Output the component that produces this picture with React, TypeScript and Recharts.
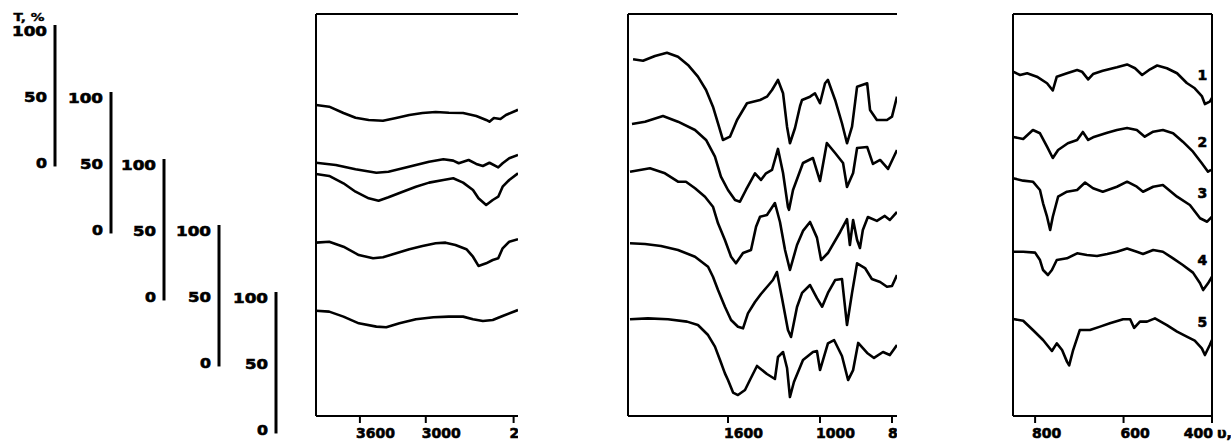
import React from 'react';
import { LineChart, Line, XAxis, YAxis, ReferenceDot, ReferenceLine } from 'recharts';

const FONT = '"DejaVu Sans", "Liberation Sans", sans-serif';

// ---------------- data (wavenumber cm-1, transmittance %) ----------------
type Pt = [number, number];

// Panel 1: 4000 – 2160 cm-1
const P1_C1: Pt[] = [[4000,44.1],[3880,42.8],[3750,38],[3640,34.4],[3520,32.7],[3390,32.1],[3270,34.2],[3150,36.5],[3030,38],[2910,38.8],[2790,38.2],[2660,38],[2540,35.7],[2450,32.7],[2420,31.4],[2380,34.2],[2320,33.4],[2270,36.5],[2180,39.7],[2160,40.5]];
const P1_C2: Pt[] = [[4000,50.8],[3820,49.1],[3640,45.8],[3450,43.2],[3340,44],[3210,46.6],[3090,49.1],[2970,51.6],[2840,53.4],[2750,52.4],[2700,50.4],[2610,52.9],[2540,49.9],[2480,48.3],[2420,50.8],[2340,47.3],[2300,50.4],[2240,54.2],[2160,56.7]];
const P1_C3: Pt[] = [[4000,92.9],[3880,91.4],[3750,85.8],[3640,79.4],[3520,74.4],[3430,72.6],[3340,75.2],[3210,79.4],[3090,83.2],[2970,86.3],[2840,88.3],[2750,89.6],[2660,86.3],[2570,80.7],[2520,74.4],[2450,69.3],[2390,73.1],[2340,75.6],[2300,83.2],[2240,88.3],[2160,93.4]];
const P1_C4: Pt[] = [[4000,91.3],[3880,92],[3750,88.2],[3610,81.9],[3480,79.4],[3390,80.2],[3270,83.2],[3150,86.3],[3030,88.8],[2910,90.8],[2820,91.3],[2730,89.5],[2630,86.3],[2570,80.6],[2520,73.6],[2450,75.6],[2390,78.1],[2340,79.4],[2300,87],[2240,92],[2160,93.9]];
const P1_C5: Pt[] = [[4000,90.2],[3880,89.5],[3750,85.7],[3610,80.6],[3450,78.1],[3360,77.6],[3240,80.6],[3090,83.7],[2930,85.2],[2790,85.7],[2660,85.7],[2570,83.7],[2480,82.4],[2390,83.1],[2300,86.2],[2160,90.7]];

// Panel 2: 2250 – 786 cm-1
const P2_C1: Pt[] = [[2219,78.8],[2154,77.7],[2076,81.3],[1998,83.8],[1926,80.8],[1861,74.5],[1796,65.6],[1743,55.5],[1698,42.8],[1665,30.2],[1633,17.5],[1587,20],[1541,32.7],[1476,45.4],[1391,47.9],[1346,50.4],[1313,55.5],[1274,63.1],[1241,53],[1215,27.6],[1196,15],[1163,26.6],[1130,43.3],[1117,47.9],[1065,50.4],[1033,53],[1000,45.4],[986,60.6],[978,63.1],[958,47.9],[939,30.2],[925,15],[911,27.6],[897,58],[869,60.6],[861,40.3],[842,32.7],[814,32.7],[800,35.2],[786,50.4]];
const P2_C2: Pt[] = [[2226,80.3],[2141,82],[2024,86.3],[1926,82],[1815,75.7],[1743,68.1],[1685,55.4],[1646,40.2],[1600,30.1],[1554,22.5],[1522,21.2],[1483,30.1],[1424,42.8],[1385,37.7],[1352,42.8],[1313,45.3],[1274,61.3],[1241,43],[1209,17.2],[1202,15],[1176,30.1],[1111,50.6],[1046,54.4],[1000,36.9],[981,65.8],[958,58.2],[936,50.6],[925,32.4],[908,43],[897,62],[869,62.8],[853,49.9],[833,52.9],[811,46.1],[786,60.5]];
const P2_C3: Pt[] = [[2239,94.6],[2109,97.2],[2011,93.4],[1926,87],[1874,87],[1815,82],[1750,75.6],[1698,68],[1665,55.4],[1620,42.7],[1580,30],[1548,25],[1502,32.8],[1450,35.1],[1417,52.8],[1391,60.4],[1346,61.7],[1294,70.8],[1261,56.4],[1228,35.1],[1196,19.9],[1150,38.9],[1111,49.6],[1065,56.4],[1020,44.5],[997,27.5],[978,32.8],[944,48.8],[925,58.6],[917,38.9],[908,57.9],[897,42.7],[889,36.6],[881,50.3],[867,60.2],[842,57.2],[820,61],[806,57.9],[786,64]];
const P2_C4: Pt[] = [[2239,90.8],[2141,90.3],[2037,88.8],[1926,85.7],[1815,80.6],[1730,73],[1698,65.4],[1665,55.3],[1620,42.6],[1580,32.5],[1535,27.4],[1502,26.2],[1470,37.6],[1424,46.2],[1385,52.3],[1346,57.6],[1307,62.9],[1281,69],[1248,49.2],[1209,24.9],[1189,19.6],[1150,42.4],[1117,53.1],[1065,59.1],[1020,49.2],[994,42.6],[978,53.1],[958,62.9],[939,63.7],[925,28.7],[911,53.1],[897,75.6],[875,72],[856,63.7],[833,61.4],[814,57.8],[800,58.4],[786,66.7]];
const P2_C5: Pt[] = [[2239,83.7],[2122,84.4],[1991,83.7],[1867,81.9],[1796,79.3],[1730,71.7],[1685,62.9],[1652,52.7],[1620,42.6],[1600,37.5],[1567,28],[1535,26.1],[1489,29.9],[1457,37.5],[1411,48.2],[1346,42.1],[1294,38.3],[1274,55],[1241,58.8],[1215,46.7],[1196,24.6],[1170,36],[1111,52.7],[1046,58.8],[1020,59.6],[1000,45.1],[978,65.4],[961,67.9],[939,55.8],[922,37.5],[908,45.1],[894,65.7],[869,58.1],[850,54.3],[825,58.8],[806,56.5],[786,64.1]];

// Panel 3: 850 – 400 cm-1
const P3_C1: Pt[] = [[850,69.4],[834,66.9],[818,68.2],[796,65.6],[773,60.6],[760,55.1],[751,65.6],[728,68.2],[705,70.7],[694,69.4],[680,63.5],[669,67.6],[647,70.1],[615,72.7],[592,74.9],[574,72],[558,66.9],[540,71.2],[524,74.1],[502,72],[479,68.2],[457,60.8],[439,56.8],[423,50.9],[416,44.8],[405,46.6],[400,49.4]];
const P3_C2: Pt[] = [[850,70.4],[827,68.9],[805,75.7],[789,73.2],[773,63],[760,54.4],[748,60.5],[726,65.6],[705,68.1],[692,74.2],[680,68.1],[669,70.1],[637,73.6],[615,75.7],[592,77.2],[570,75.7],[552,70.6],[533,74.4],[511,75.7],[488,73.2],[466,66.8],[443,59.2],[423,50.4],[409,44],[402,45.3]];
const P3_C3: Pt[] = [[850,89.6],[827,87.8],[805,87],[789,80.7],[782,70.6],[773,60.4],[766,50.3],[760,60.4],[748,75.6],[728,79.4],[705,80.7],[687,86.4],[669,82],[647,79.4],[615,83.2],[592,87],[570,83.2],[556,79.4],[533,83.2],[511,84.5],[479,75.6],[450,69.3],[427,59.2],[411,56.6],[400,60.4]];
const P3_C4: Pt[] = [[850,84.4],[827,84.4],[800,83.7],[789,78.1],[782,70.5],[771,66.7],[762,70.5],[751,78.1],[728,79.4],[705,83.2],[683,81.9],[660,81.2],[637,82.7],[615,84.4],[592,86.9],[570,84.4],[556,82.7],[533,85.7],[511,84.4],[488,79.4],[466,74.3],[443,68.5],[427,60.4],[420,55.3],[409,60.4],[400,65.4]];
const P3_C5: Pt[] = [[850,83.9],[827,82.6],[805,75.5],[782,67.9],[762,59.6],[751,65.4],[739,60.3],[728,51.5],[723,48.6],[714,60.3],[699,75.5],[676,75.5],[653,78.1],[631,80.6],[601,83.7],[585,83.7],[576,77.1],[563,81.9],[547,81.9],[529,84.4],[502,79.3],[479,74.3],[457,70.5],[439,67.4],[423,61.6],[416,56.5],[405,64.1],[400,68]];

const CURVE_NAMES = ['1', '2', '3', '4', '5'];
const NAME_WN = 422;
const NAME_T = [66.9, 66.6, 78.4, 78.1, 81.6];

const T_TICKS = [0, 50, 100];
const T_AXIS_DOMAIN = [-3, 104.5];
const P1_TICKS = [3600, 3000, 2200];
const P2_TICKS = [1600, 1000, 800];
const P3_TICKS = [800, 600, 400];
const P1_DOMAIN = [2160, 4000];
const P2_DOMAIN = [786, 2252];
const P3_DOMAIN = [400, 850];
// panel 2 axis has a scale change: wavenumber stops and their fraction across the axis
const P2_STOPS = [2252, 1600, 1000, 800, 786];
const P2_FRACS = [0, 0.3717, 0.7138, 0.9814, 1];
const X_UNIT = 'υ, см⁻¹';
const Y_TITLE = 'T, %';

// ---------------- layout ----------------
const PPU = 1.316; // px per % transmittance
const zeroRow = (k: number) => 163 + 66.6 * k;
const AXIS_X = [55, 111, 164, 219, 276];
const PLOT_TOP = 14;
const PLOT_BOTTOM = 416;
const TEXT_STROKE = 0.6;

function brokenScale(stops: number[], fracs: number[]): any {
  let dom: number[] = [stops[stops.length - 1], stops[0]];
  let rng: number[] = [0, 1];
  const frac = (v: number) => {
    const n = stops.length;
    let i = 0;
    while (i < n - 2 && v < stops[i + 1]) i++;
    const t = (v - stops[i]) / (stops[i + 1] - stops[i]);
    return fracs[i] + t * (fracs[i + 1] - fracs[i]);
  };
  const s: any = (v: any) => rng[0] + frac(Number(v)) * (rng[1] - rng[0]);
  s.domain = (d?: number[]) => {
    if (d === undefined) return dom.slice();
    dom = d.slice();
    return s;
  };
  s.range = (r?: number[]) => {
    if (r === undefined) return rng.slice();
    rng = r.slice();
    return s;
  };
  s.copy = () => brokenScale(stops, fracs).domain(dom).range(rng);
  s.ticks = () => stops.slice(1, -1);
  s.tickFormat = () => (v: any) => String(v);
  s.clamp = () => s;
  s.nice = () => s;
  s.invert = (px: number) => {
    const f = (px - rng[0]) / (rng[1] - rng[0]);
    for (let i = 0; i < fracs.length - 1; i++) {
      if (f <= fracs[i + 1] || i === fracs.length - 2) {
        const t = (f - fracs[i]) / (fracs[i + 1] - fracs[i]);
        return stops[i] + t * (stops[i + 1] - stops[i]);
      }
    }
    return stops[0];
  };
  return s;
}

const tickText = (x: number, y: number, value: any, anchor: string) => (
  <text
    x={x}
    y={y}
    dy="0.71em"
    textAnchor={anchor}
    fontFamily={FONT}
    fontWeight="bold"
    fontSize={14}
    fill="#000"
    stroke="#000"
    strokeWidth={TEXT_STROKE}
  >
    {value}
  </text>
);

const startTick = (dx: number) => (p: any) => tickText(p.x + dx, p.y, p.payload.value, 'start');

const panel3Tick = (p: any) => {
  const v = p.payload.value;
  if (v === P3_TICKS[P3_TICKS.length - 1]) {
    return (
      <g>
        {tickText(p.x + 1, p.y, v, 'end')}
        {tickText(p.x + 5, p.y, X_UNIT, 'start')}
      </g>
    );
  }
  return tickText(p.x - 3, p.y, v, 'start');
};

const LeftTick = (p: any) => {
  const s = String(p.payload.value);
  return (
    <text
      x={p.x}
      y={p.y}
      dy="0.36em"
      textAnchor="end"
      fontFamily={FONT}
      fontWeight="bold"
      fontSize={14}
      textLength={12 * s.length - 1}
      lengthAdjust="spacingAndGlyphs"
      fill="#000"
      stroke="#000"
      strokeWidth={TEXT_STROKE}
    >
      {s}
    </text>
  );
};

function TAxis({ k }: { k: number }) {
  const MT = 20;
  const MB = 10;
  const W = 50;
  const lo = T_AXIS_DOMAIN[0];
  const hi = T_AXIS_DOMAIN[1];
  const plotH = (hi - lo) * PPU;
  const top = zeroRow(k) - hi * PPU - MT;
  const h = MT + plotH + MB;
  return (
    <div style={{ position: 'absolute', left: AXIS_X[k] - W, top, width: W + 20, height: h }}>
      <LineChart width={W + 20} height={h} margin={{ top: MT, right: 10, bottom: MB, left: 0 }}>
        <YAxis
          type="number"
          domain={[lo, hi]}
          allowDataOverflow
          ticks={T_TICKS}
          interval={0}
          width={W}
          tickLine={false}
          axisLine={{ stroke: '#000', strokeWidth: 3 }}
          tick={LeftTick}
          label={
            k === 0
              ? {
                  value: Y_TITLE,
                  content: (p: any) => (
                    <text
                      x={(p.viewBox?.x ?? 0) + 24}
                      y={(p.viewBox?.y ?? MT) - 7.5}
                      dy="0.36em"
                      textAnchor="middle"
                      fontFamily={FONT}
                      fontWeight="bold"
                      fontSize={11}
                      textLength={31}
                      lengthAdjust="spacingAndGlyphs"
                      fill="#000"
                      stroke="#000"
                      strokeWidth={0.4}
                    >
                      {Y_TITLE}
                    </text>
                  ),
                }
              : undefined
          }
        />
      </LineChart>
    </div>
  );
}

function Panel(props: any) {
  const { left, width, rightExtra, clip, domain, reversed, scale, ticks, tick, curves, frameRight, names } = props;
  const MT = 4;
  const ML = 4;
  const XH = 30;
  const plotH = PLOT_BOTTOM - PLOT_TOP;
  const chartW = ML + width + rightExtra;
  const chartH = MT + plotH + XH;
  const frame = { stroke: '#000', strokeWidth: 2 };
  const leftEdge = reversed ? domain[1] : domain[1];
  const rightEdge = domain[0];
  const topValue = (zeroRow(0) - PLOT_TOP) / PPU;
  return (
    <div
      style={{
        position: 'absolute',
        left: left - ML,
        top: PLOT_TOP - MT,
        width: clip ? ML + width : chartW,
        height: chartH,
        overflow: 'hidden',
      }}
    >
      <LineChart width={chartW} height={chartH} margin={{ top: MT, right: rightExtra, bottom: 0, left: ML }}>
        <XAxis
          xAxisId="b"
          dataKey="w"
          type="number"
          domain={domain}
          reversed={reversed}
          scale={scale ?? 'linear'}
          allowDataOverflow
          ticks={ticks}
          interval={0}
          tick={tick}
          tickSize={7}
          tickMargin={5}
          height={XH}
          axisLine={frame}
          tickLine={frame}
        />
        {curves.map((_c: Pt[], k: number) => (
          <YAxis
            key={'y' + k}
            yAxisId={'c' + k}
            hide
            type="number"
            allowDataOverflow
            domain={[(zeroRow(k) - PLOT_BOTTOM) / PPU, (zeroRow(k) - PLOT_TOP) / PPU]}
          />
        ))}
        <ReferenceLine xAxisId="b" yAxisId="c0" x={leftEdge} stroke="#000" strokeWidth={2} ifOverflow="visible" />
        <ReferenceLine xAxisId="b" yAxisId="c0" y={topValue} stroke="#000" strokeWidth={2} ifOverflow="visible" />
        {frameRight ? (
          <ReferenceLine xAxisId="b" yAxisId="c0" x={rightEdge} stroke="#000" strokeWidth={2} ifOverflow="visible" />
        ) : null}
        {curves.map((c: Pt[], k: number) => (
          <Line
            key={'l' + k}
            xAxisId="b"
            yAxisId={'c' + k}
            data={c.map(([w, t]) => ({ w, t }))}
            dataKey="t"
            type="linear"
            stroke="#000"
            strokeWidth={2.6}
            strokeLinejoin="round"
            dot={false}
            activeDot={false}
            isAnimationActive={false}
          />
        ))}
        {names
          ? CURVE_NAMES.map((n, k) => (
              <ReferenceDot
                key={'n' + k}
                xAxisId="b"
                yAxisId={'c' + k}
                x={NAME_WN}
                y={NAME_T[k]}
                r={1}
                fill="none"
                stroke="none"
                label={{
                  value: n,
                  position: 'center',
                  fill: '#000',
                  stroke: '#000',
                  strokeWidth: TEXT_STROKE,
                  fontSize: 14,
                  fontWeight: 'bold',
                  fontFamily: FONT,
                }}
              />
            ))
          : null}
      </LineChart>
    </div>
  );
}

export default function App() {
  return (
    <div
      style={{
        position: 'absolute',
        left: 0,
        top: 0,
        width: 1231,
        height: 441,
        overflow: 'hidden',
        background: '#fff',
      }}
    >
      {[0, 1, 2, 3, 4].map((k) => (
        <TAxis key={k} k={k} />
      ))}
      <Panel
        left={316}
        width={202}
        rightExtra={30}
        clip
        domain={P1_DOMAIN}
        reversed
        ticks={P1_TICKS}
        tick={startTick(-4)}
        curves={[P1_C1, P1_C2, P1_C3, P1_C4, P1_C5]}
      />
      <Panel
        left={628}
        width={269}
        rightExtra={30}
        clip
        domain={P2_DOMAIN}
        reversed={false}
        scale={brokenScale(P2_STOPS, P2_FRACS)}
        ticks={P2_TICKS}
        tick={startTick(-4)}
        curves={[P2_C1, P2_C2, P2_C3, P2_C4, P2_C5]}
      />
      <Panel
        left={1013}
        width={199}
        rightExtra={60}
        domain={P3_DOMAIN}
        reversed
        ticks={P3_TICKS}
        tick={panel3Tick}
        curves={[P3_C1, P3_C2, P3_C3, P3_C4, P3_C5]}
        frameRight
        names
      />
    </div>
  );
}
